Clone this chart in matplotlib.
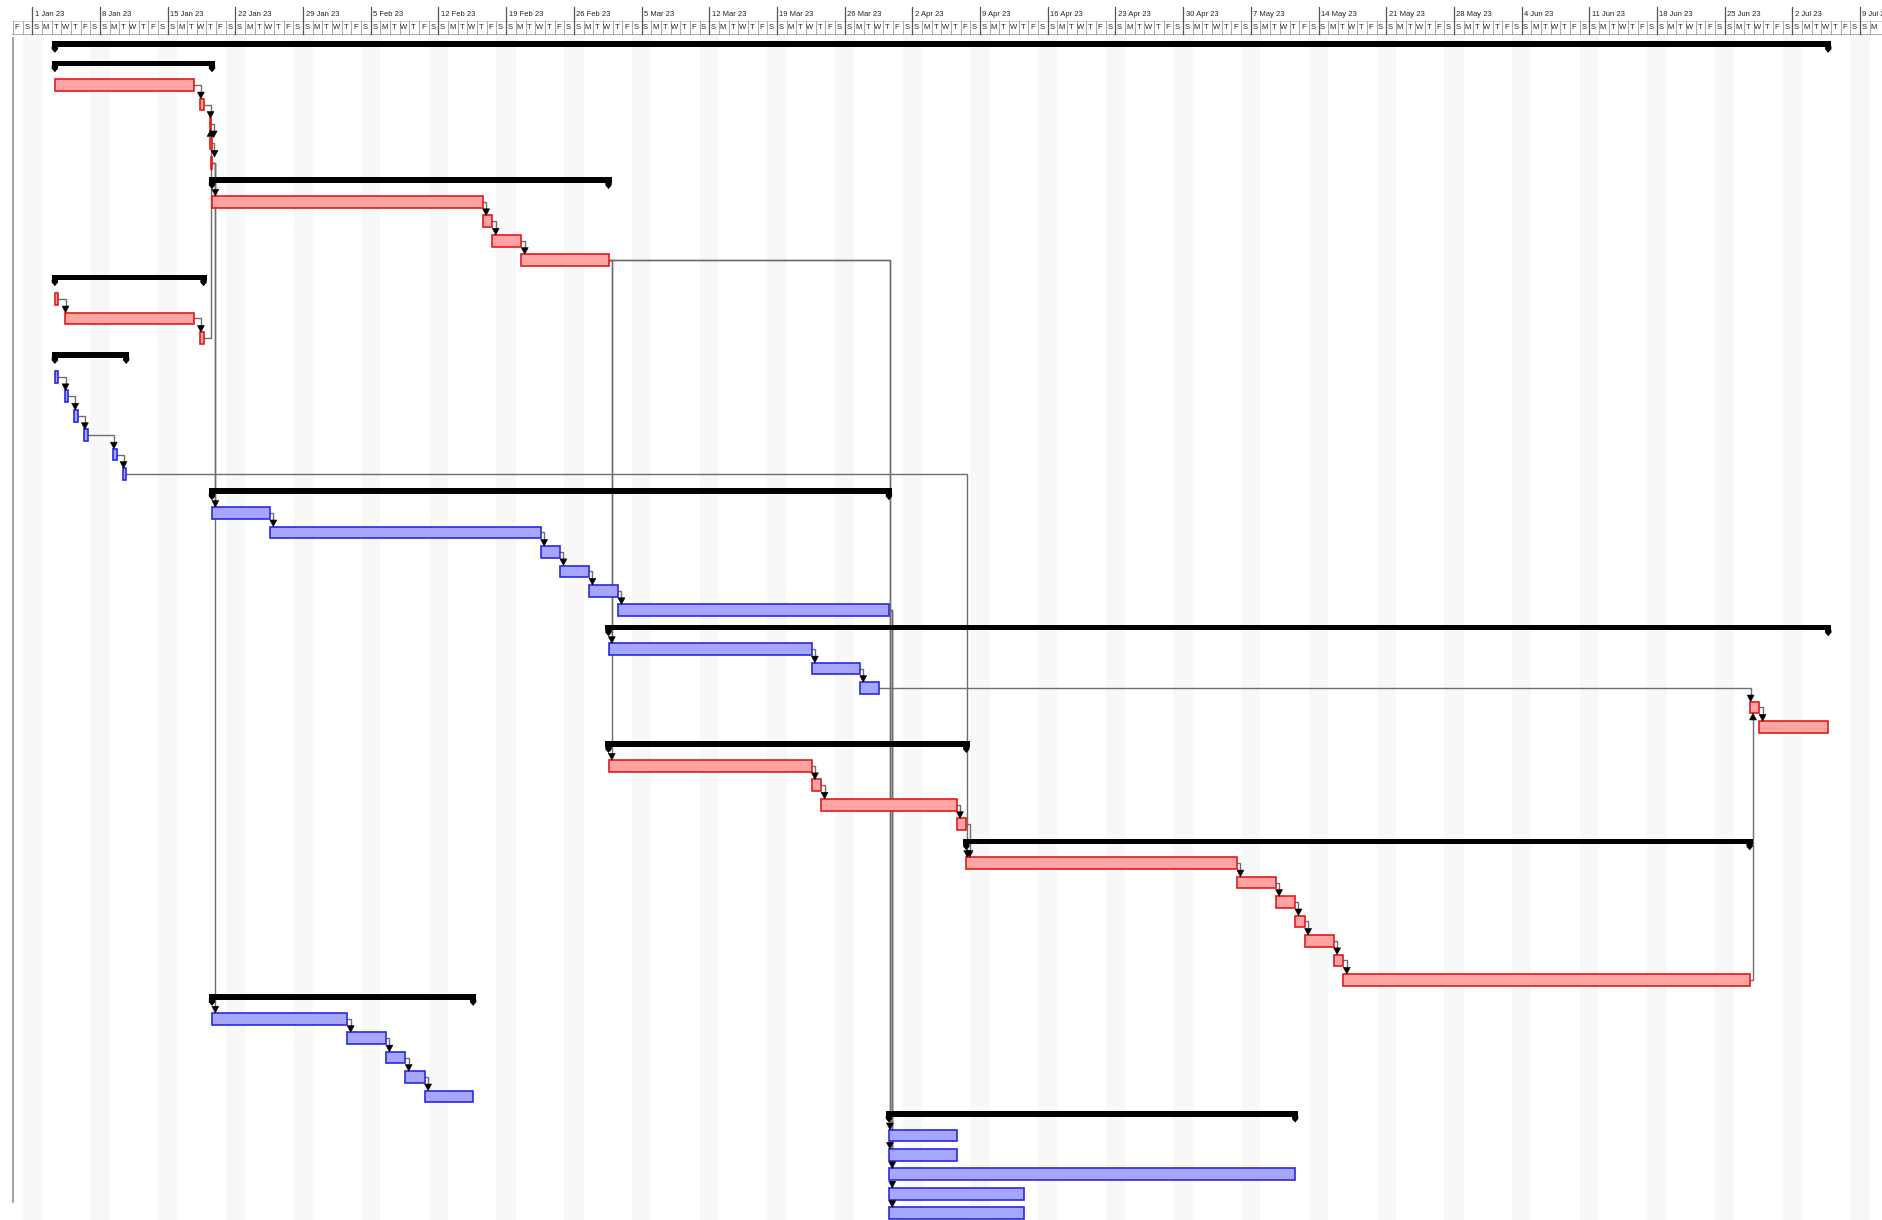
import matplotlib
matplotlib.use("Agg")
import matplotlib.pyplot as plt
from matplotlib.patches import Rectangle, Polygon
import pandas as pd

plt.rcParams["font.family"] = ["Liberation Sans", "DejaVu Sans"]

# ── Gantt rows, top to bottom (S = summary, R = critical task, B = normal task) ──
KIND = (["S", "S"] + ["R"] * 5 + ["S"] + ["R"] * 4 + ["S"] + ["R"] * 3
        + ["S"] + ["B"] * 6 + ["S"] + ["B"] * 6 + ["S"] + ["B"] * 3 + ["R"] * 2
        + ["S"] + ["R"] * 4 + ["S"] + ["R"] * 7 + ["S"] + ["B"] * 5
        + ["S"] + ["B"] * 5)

START = [
    "2023-01-03 08:00", "2023-01-03 08:00", "2023-01-03 08:00", "2023-01-18 08:00",
    "2023-01-19 08:00", "2023-01-19 10:00", "2023-01-19 12:00",
    "2023-01-19 14:00", "2023-01-19 14:00", "2023-02-16 14:00", "2023-02-17 14:00",
    "2023-02-20 14:00",
    "2023-01-03 08:00", "2023-01-03 08:00", "2023-01-04 08:00", "2023-01-18 08:00",
    "2023-01-03 08:00", "2023-01-03 08:00", "2023-01-04 08:00", "2023-01-05 08:00",
    "2023-01-06 08:00", "2023-01-09 08:00", "2023-01-10 08:00",
    "2023-01-19 14:00", "2023-01-19 14:00", "2023-01-25 14:00", "2023-02-22 14:00",
    "2023-02-24 14:00", "2023-02-27 14:00", "2023-03-02 14:00",
    "2023-03-01 14:00", "2023-03-01 14:00", "2023-03-22 14:00", "2023-03-27 14:00",
    "2023-06-27 14:00", "2023-06-28 14:00",
    "2023-03-01 14:00", "2023-03-01 14:00", "2023-03-22 14:00", "2023-03-23 14:00",
    "2023-04-06 14:00",
    "2023-04-07 14:00", "2023-04-07 14:00", "2023-05-05 14:00", "2023-05-09 14:00",
    "2023-05-11 14:00", "2023-05-12 14:00", "2023-05-15 14:00", "2023-05-16 14:00",
    "2023-01-19 14:00", "2023-01-19 14:00", "2023-02-02 14:00", "2023-02-06 14:00",
    "2023-02-08 14:00", "2023-02-10 14:00",
    "2023-03-30 14:00", "2023-03-30 14:00", "2023-03-30 14:00", "2023-03-30 14:00",
    "2023-03-30 14:00", "2023-03-30 14:00",
]

FINISH = [
    "2023-07-05 17:00", "2023-01-19 14:00", "2023-01-17 17:00", "2023-01-18 17:00",
    "2023-01-19 10:00", "2023-01-19 12:00", "2023-01-19 14:00",
    "2023-03-01 14:00", "2023-02-16 14:00", "2023-02-17 14:00", "2023-02-20 14:00",
    "2023-03-01 14:00",
    "2023-01-18 17:00", "2023-01-03 17:00", "2023-01-17 17:00", "2023-01-18 17:00",
    "2023-01-10 17:00", "2023-01-03 17:00", "2023-01-04 17:00", "2023-01-05 17:00",
    "2023-01-06 17:00", "2023-01-09 17:00", "2023-01-10 17:00",
    "2023-03-30 14:00", "2023-01-25 14:00", "2023-02-22 14:00", "2023-02-24 14:00",
    "2023-02-27 14:00", "2023-03-02 14:00", "2023-03-30 14:00",
    "2023-07-05 17:00", "2023-03-22 14:00", "2023-03-27 14:00", "2023-03-29 14:00",
    "2023-06-28 14:00", "2023-07-05 17:00",
    "2023-04-07 14:00", "2023-03-22 14:00", "2023-03-23 14:00", "2023-04-06 14:00",
    "2023-04-07 14:00",
    "2023-06-27 14:00", "2023-05-05 14:00", "2023-05-09 14:00", "2023-05-11 14:00",
    "2023-05-12 14:00", "2023-05-15 14:00", "2023-05-16 14:00", "2023-06-27 14:00",
    "2023-02-15 14:00", "2023-02-02 14:00", "2023-02-06 14:00", "2023-02-08 14:00",
    "2023-02-10 14:00", "2023-02-15 14:00",
    "2023-05-11 14:00", "2023-04-06 14:00", "2023-04-06 14:00", "2023-05-11 14:00",
    "2023-04-13 14:00", "2023-04-13 14:00",
]

# finish-to-start links (predecessor row, successor row), 1-based
LINKS = [(3, 4), (4, 5), (5, 6), (6, 7), (16, 5), (7, 9), (7, 25), (7, 51),
         (9, 10), (10, 11), (11, 12), (12, 32), (12, 38), (12, 57), (12, 58),
         (14, 15), (15, 16), (18, 19), (19, 20), (20, 21), (21, 22), (22, 23),
         (23, 43), (25, 26), (26, 27), (27, 28), (28, 29), (29, 30),
         (30, 59), (30, 60), (30, 61), (32, 33), (33, 34), (34, 35), (49, 35),
         (35, 36), (38, 39), (39, 40), (40, 41), (41, 43), (43, 44), (44, 45),
         (45, 46), (46, 47), (47, 48), (48, 49), (51, 52), (52, 53), (53, 54),
         (54, 55)]

WEEK_LABELS = ["1 Jan 23", "8 Jan 23", "15 Jan 23", "22 Jan 23", "29 Jan 23",
               "5 Feb 23", "12 Feb 23", "19 Feb 23", "26 Feb 23", "5 Mar 23",
               "12 Mar 23", "19 Mar 23", "26 Mar 23", "2 Apr 23", "9 Apr 23",
               "16 Apr 23", "23 Apr 23", "30 Apr 23", "7 May 23", "14 May 23",
               "21 May 23", "28 May 23", "4 Jun 23", "11 Jun 23", "18 Jun 23",
               "25 Jun 23", "2 Jul 23", "9 Jul 23"]
DAY_LETTERS = ["S", "M", "T", "W", "T", "F", "S"]   # Sunday first

ORIGIN = pd.Timestamp("2023-01-01")
sta = ((pd.to_datetime(START) - ORIGIN) / pd.Timedelta(days=1)).to_numpy()
fin = ((pd.to_datetime(FINISH) - ORIGIN) / pd.Timedelta(days=1)).to_numpy()

FILL = {"R": "#FFA3A3", "B": "#A6A6FF"}
EDGE = {"R": "#E31A1A", "B": "#2A2AE0"}
LINK_C = "#6E6E6E"

fig = plt.figure(figsize=(18.83, 12.20), dpi=100)
fig.patch.set_facecolor("white")
ax = fig.add_axes([0, 0, 1, 1])
X0, X1 = -3.34, 191.37
Y_TOP, Y_BOT = -1.375, 61.35
ax.set_xlim(X0, X1)
ax.set_ylim(Y_BOT, Y_TOP)
ax.axis("off")

# ── weekend shading ─────────────────────────────────────────────────────────
for k in range(0, 29):
    ax.add_patch(Rectangle((7 * k - 1, 0.42), 2, Y_BOT - 0.42,
                           facecolor="#F8F8F8", edgecolor="none", zorder=0))

# ── timescale header ────────────────────────────────────────────────────────
HX0 = -2.05
ax.plot([HX0, X1], [-0.30, -0.30], color="#C8C8C8", lw=0.6, zorder=1)
ax.plot([HX0, X1], [0.36, 0.36], color="#B0B0B0", lw=0.8, zorder=1)
for d in range(-2, 191):
    ax.plot([d, d], [-0.30, 0.36], color="#9A9A9A", lw=0.6, zorder=1)
    ax.text(d + 0.42, 0.04, DAY_LETTERS[d % 7], fontsize=5.5, color="#222222",
            ha="center", va="center", zorder=2)
for i, lab in enumerate(WEEK_LABELS):
    ax.plot([7 * i, 7 * i], [-1.03, 0.36], color="#555555", lw=0.9, zorder=2)
    ax.text(7 * i + 0.25, -0.62, lab, fontsize=5.5, color="#222222",
            ha="left", va="center", zorder=2, clip_on=True)

# left border line
ax.plot([-2.03, -2.03], [0.6, 60.4], color="#9C9C9C", lw=1.3, zorder=1)

# ── links ───────────────────────────────────────────────────────────────────
for p, s in LINKS:
    pe, ss = fin[p - 1], sta[s - 1]
    xv = max(pe + 0.34, ss + 0.1)
    if s > p:
        tip, base = s - 0.30, s - 0.64
    else:
        tip, base = s + 0.30, s + 0.64
    ax.plot([pe, xv, xv], [p, p, base], color=LINK_C, lw=1.0, zorder=1.5,
            solid_joinstyle="miter")
    ax.add_patch(Polygon([(xv - 0.36, base), (xv + 0.36, base), (xv, tip)],
                         closed=True, facecolor="black", edgecolor="black",
                         lw=0.4, zorder=5))

# ── bars ────────────────────────────────────────────────────────────────────
for r, (k, a, b) in enumerate(zip(KIND, sta, fin), start=1):
    if k == "S":
        l, rr = a - 0.33, b + 0.33
        ax.add_patch(Rectangle((l, r - 0.26), rr - l, 0.29,
                               facecolor="black", edgecolor="none", zorder=4))
        for e in (l, rr - 0.66):
            ax.add_patch(Polygon([(e, r), (e + 0.66, r), (e + 0.66, r + 0.15),
                                  (e + 0.33, r + 0.34), (e, r + 0.15)],
                                 closed=True, facecolor="black",
                                 edgecolor="none", zorder=4))
    else:
        w = max(b - a, 0.12)
        ax.add_patch(Rectangle((a, r - 0.30), w, 0.60, facecolor=FILL[k],
                               edgecolor=EDGE[k], lw=1.2, zorder=3))

fig.savefig("out.png", dpi=100)
